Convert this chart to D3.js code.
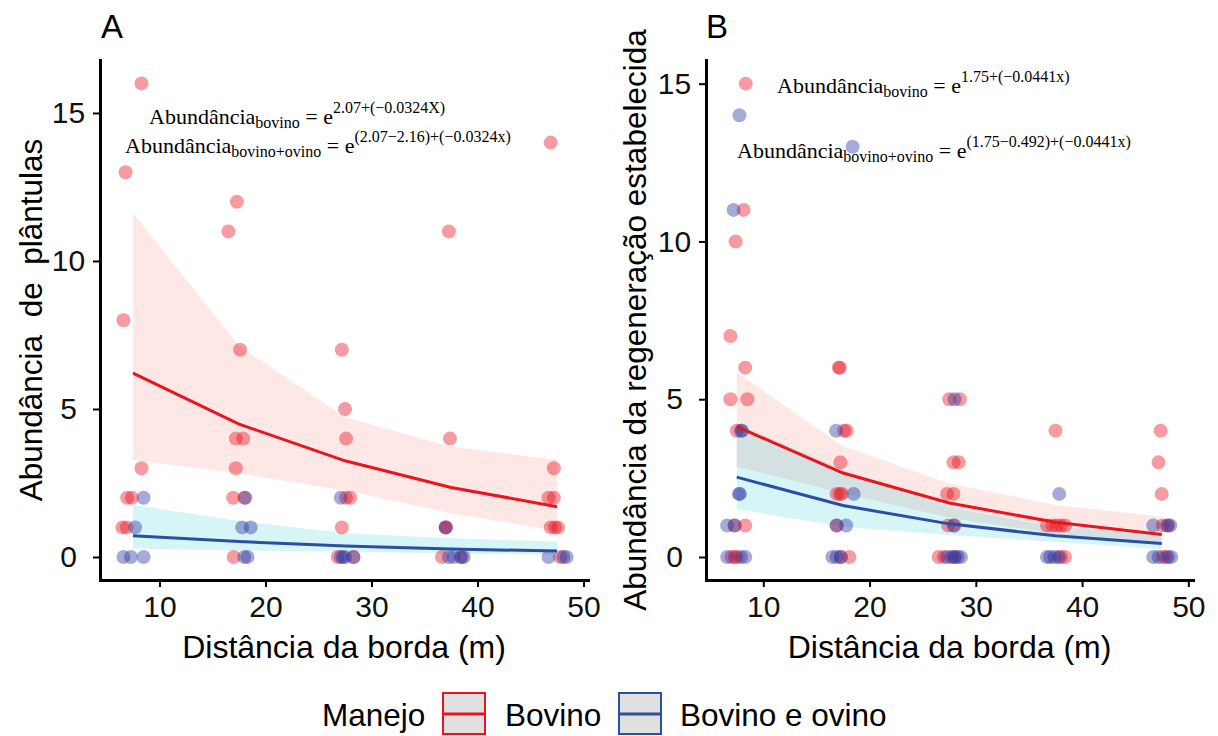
<!DOCTYPE html>
<html>
<head>
<meta charset="utf-8">
<script src="https://cdn.jsdelivr.net/npm/d3@7"></script>
<style>
  body { margin: 0; background: #ffffff; }
  svg { display: block; }
</style>
</head>
<body>
<svg id="chart" width="1218" height="736"></svg>
<script>
// ---- Data -------------------------------------------------------------

// Distances (m) at which the fitted curves and confidence bands are evaluated
const fitDistances = [7.5, 17.5, 27.5, 37.5, 47.5];

// Panel A: seedling abundance (plântulas), jittered observations
const plantulasBovinoX = [8.3, 46.9, 6.8, 17.3, 16.5, 37.3, 6.6, 17.6, 27.2, 27.5, 17.2, 17.9, 27.6, 37.4, 8.3, 17.2, 47.2,
  6.95, 7.4, 16.95, 18.0, 27.6, 28.0, 46.7, 47.2,
  6.5, 6.9, 27.2, 37.0, 37.0, 46.9, 47.3, 47.6,
  17.0, 26.8, 28.3, 36.65, 38.5, 47.8];
const plantulasBovinoY = [16, 14, 13, 12, 11, 11, 8, 7, 7, 5, 4, 4, 4, 4, 3, 3, 3,
  2, 2, 2, 2, 2, 2, 2, 2,
  1, 1, 1, 1, 1, 1, 1, 1,
  0, 0, 0, 0, 0, 0];
const plantulasOvinoX = [8.5, 18.1, 27.1,
  7.7, 17.8, 18.6, 37.0,
  6.6, 7.3, 8.5, 18.0, 18.3, 27.1, 27.3, 27.5, 28.3, 37.3, 37.75, 38.4, 38.7, 46.7, 48.1, 48.4];
const plantulasOvinoY = [2, 2, 2,
  1, 1, 1, 1,
  0, 0, 0, 0, 0, 0, 0, 0, 0, 0, 0, 0, 0, 0, 0, 0];

// Panel A: fitted abundance and confidence band
const plantulasFitBovino = [6.21, 4.49, 3.25, 2.35, 1.70];
const plantulasLoBovino  = [3.28, 2.83, 2.24, 1.48, 0.88];
const plantulasHiBovino  = [11.63, 7.13, 4.72, 3.73, 3.28];
const plantulasFitOvino  = [0.72, 0.52, 0.37, 0.27, 0.20];
const plantulasLoOvino   = [0.29, 0.22, 0.18, 0.12, 0.075];
const plantulasHiOvino   = [1.76, 1.22, 0.80, 0.63, 0.52];

// Panel B: established regeneration abundance, jittered observations
const regenBovinoX = [8.35, 8.15, 7.4, 6.9, 8.3, 17.1, 17.2, 6.9, 8.5, 27.5, 28.5,
  7.5, 17.6, 17.85, 37.5, 47.4,
  17.25, 27.9, 28.4, 47.2,
  16.9, 17.2, 17.4, 27.3, 27.9, 47.5,
  7.3, 8.3, 16.9, 27.4, 28.0, 36.7, 37.2, 37.6, 38.0, 38.4, 47.6, 48.1,
  7.0, 7.3, 7.5, 17.3, 18.1, 26.5, 27.0, 28.0, 38.0, 38.4, 47.6, 47.9];
const regenBovinoY = [15, 11, 10, 7, 6, 6, 6, 5, 5, 5, 5,
  4, 4, 4, 4, 4,
  3, 3, 3, 3,
  2, 2, 2, 2, 2, 2,
  1, 1, 1, 1, 1, 1, 1, 1, 1, 1, 1, 1,
  0, 0, 0, 0, 0, 0, 0, 0, 0, 0, 0, 0];
const regenOvinoX = [7.75, 18.4, 7.2,
  28.0,
  7.9, 8.0, 16.85,
  7.7, 7.8, 18.5, 37.85,
  6.6, 7.3, 16.9, 17.8, 27.9, 46.7, 48.0, 48.3,
  6.6, 7.9, 8.3, 16.5, 16.9, 17.3, 27.3, 27.7, 28.0, 28.3, 28.6, 36.7, 37.0, 37.4, 37.8, 46.7, 47.2, 48.1, 48.4];
const regenOvinoY = [14, 13, 11,
  5,
  4, 4, 4,
  2, 2, 2, 2,
  1, 1, 1, 1, 1, 1, 1, 1,
  0, 0, 0, 0, 0, 0, 0, 0, 0, 0, 0, 0, 0, 0, 0, 0, 0, 0, 0];

// Panel B: fitted abundance and confidence band
const regenFitBovino = [4.13, 2.66, 1.71, 1.10, 0.71];
const regenLoBovino  = [2.86, 2.02, 1.25, 0.73, 0.39];
const regenHiBovino  = [5.85, 3.51, 2.33, 1.65, 1.28];
const regenFitOvino  = [2.53, 1.63, 1.05, 0.67, 0.43];
const regenLoOvino   = [1.51, 0.96, 0.70, 0.48, 0.24];
const regenHiOvino   = [4.24, 2.77, 1.58, 0.94, 0.77];

// Axis ticks
const xTicks = [10, 20, 30, 40, 50];
const yTicks = [0, 5, 10, 15];

// Legend
const manejoLabels = ["Bovino", "Bovino e ovino"];

// ---- Styling ----------------------------------------------------------
const SANS = "'Liberation Sans', Arial, sans-serif";
const SERIF = "'Liberation Serif', 'Times New Roman', serif";
const lineColor = { bovino: "#E8151F", ovino: "#2B4EA2" };
const pointColor = { bovino: "#E8101E", ovino: "#2B35A0" };
const bandColor = { bovino: "#F8766D", ovino: "#00BFC4" };

const svg = d3.select("#chart");
svg.append("rect").attr("width", 1218).attr("height", 736).attr("fill", "#ffffff");

const zip = (xs, ys) => xs.map((x, i) => ({ x, y: ys[i] }));
const band = (fit, lo, hi) => fitDistances.map((x, i) => ({ x, fit: fit[i], lo: lo[i], hi: hi[i] }));

const panels = [
  {
    tag: "A", tagX: 101,
    xRange: [100, 588], xDomain: [4.387, 50.42],
    yRange: [580, 60], yDomain: [-0.777, 16.79],
    yTitle: "Abundância  de  plântulas", yTitleX: 42,
    bovino: zip(plantulasBovinoX, plantulasBovinoY),
    ovino: zip(plantulasOvinoX, plantulasOvinoY),
    bandBovino: band(plantulasFitBovino, plantulasLoBovino, plantulasHiBovino),
    bandOvino: band(plantulasFitOvino, plantulasLoOvino, plantulasHiOvino),
    equations: [
      { x: 149, y: 124, sup: "2.07+(−0.0324X)", sub: "bovino" },
      { x: 125, y: 153, sup: "(2.07−2.16)+(−0.0324x)", sub: "bovino+ovino" }
    ]
  },
  {
    tag: "B", tagX: 706,
    xRange: [706, 1193], xDomain: [4.607, 50.44],
    yRange: [580, 60], yDomain: [-0.729, 15.75],
    yTitle: "Abundância da regeneração estabelecida", yTitleX: 646,
    bovino: zip(regenBovinoX, regenBovinoY),
    ovino: zip(regenOvinoX, regenOvinoY),
    bandBovino: band(regenFitBovino, regenLoBovino, regenHiBovino),
    bandOvino: band(regenFitOvino, regenLoOvino, regenHiOvino),
    equations: [
      { x: 777, y: 93, sup: "1.75+(−0.0441x)", sub: "bovino" },
      { x: 737, y: 158, sup: "(1.75−0.492)+(−0.0441x)", sub: "bovino+ovino" }
    ]
  }
];

panels.forEach(p => {
  const x = d3.scaleLinear().domain(p.xDomain).range(p.xRange);
  const y = d3.scaleLinear().domain(p.yDomain).range(p.yRange);
  const g = svg.append("g");

  const area = d3.area().x(d => x(d.x)).y0(d => y(d.lo)).y1(d => y(d.hi));
  const line = d3.line().x(d => x(d.x)).y(d => y(d.fit));

  // confidence bands
  g.append("path").datum(p.bandBovino).attr("d", area)
    .attr("fill", bandColor.bovino).attr("fill-opacity", 0.17);
  g.append("path").datum(p.bandOvino).attr("d", area)
    .attr("fill", bandColor.ovino).attr("fill-opacity", 0.16);

  // observations
  g.append("g").selectAll("circle").data(p.bovino).join("circle")
    .attr("cx", d => x(d.x)).attr("cy", d => y(d.y)).attr("r", 7)
    .attr("fill", pointColor.bovino).attr("fill-opacity", 0.42);
  g.append("g").selectAll("circle").data(p.ovino).join("circle")
    .attr("cx", d => x(d.x)).attr("cy", d => y(d.y)).attr("r", 7)
    .attr("fill", pointColor.ovino).attr("fill-opacity", 0.42);

  // fitted curves
  g.append("path").datum(p.bandBovino).attr("d", line)
    .attr("fill", "none").attr("stroke", lineColor.bovino).attr("stroke-width", 3);
  g.append("path").datum(p.bandOvino).attr("d", line)
    .attr("fill", "none").attr("stroke", lineColor.ovino).attr("stroke-width", 3);

  // axes
  const xAxis = g.append("g").attr("transform", `translate(0,${p.yRange[0]})`)
    .call(d3.axisBottom(x).tickValues(xTicks).tickSizeInner(7).tickSizeOuter(0).tickPadding(9));
  const yAxis = g.append("g").attr("transform", `translate(${p.xRange[0]},0)`)
    .call(d3.axisLeft(y).tickValues(yTicks).tickSizeInner(7).tickSizeOuter(0).tickPadding(15));
  [xAxis, yAxis].forEach(a => {
    a.select(".domain").attr("stroke", "#000").attr("stroke-width", 3).attr("stroke-linecap", "square");
    a.selectAll(".tick line").attr("stroke", "#000").attr("stroke-width", 2);
    a.selectAll(".tick text").attr("fill", "#111").attr("font-family", SANS).attr("font-size", 30);
  });
  // y tick labels are centred in their column
  yAxis.selectAll(".tick text").attr("text-anchor", "middle").attr("x", -31.5);

  // axis titles
  g.append("text").attr("x", (p.xRange[0] + p.xRange[1]) / 2).attr("y", 658)
    .attr("text-anchor", "middle").attr("font-family", SANS).attr("font-size", 32).attr("fill", "#000")
    .text("Distância da borda (m)");
  g.append("text")
    .attr("transform", `translate(${p.yTitleX},${(p.yRange[0] + p.yRange[1]) / 2}) rotate(-90)`)
    .attr("text-anchor", "middle").attr("font-family", SANS).attr("font-size", 31.5).attr("fill", "#000")
    .style("white-space", "pre")
    .text(p.yTitle);

  // panel tag
  g.append("text").attr("x", p.tagX).attr("y", 38)
    .attr("font-family", SANS).attr("font-size", 33).attr("fill", "#000").text(p.tag);

  // model equations
  p.equations.forEach(eq => {
    const t = g.append("text").attr("x", eq.x).attr("y", eq.y)
      .attr("font-family", SERIF).attr("font-size", 22).attr("fill", "#000");
    t.append("tspan").text("Abundância");
    t.append("tspan").attr("font-size", 16).attr("dy", 4).text(eq.sub);
    t.append("tspan").attr("dy", -4).text(" = e");
    t.append("tspan").attr("font-size", 16).attr("dy", -11).text(eq.sup);
  });
});

// ---- Legend -----------------------------------------------------------
const legend = svg.append("g");
legend.append("text").attr("x", 322).attr("y", 726)
  .attr("font-family", SANS).attr("font-size", 31.5).attr("fill", "#000").text("Manejo");
const keys = [
  { label: manejoLabels[0], color: lineColor.bovino, boxX: 443, textX: 505 },
  { label: manejoLabels[1], color: lineColor.ovino, boxX: 619, textX: 680 }
];
keys.forEach(k => {
  legend.append("rect").attr("x", k.boxX).attr("y", 693).attr("width", 42).attr("height", 41)
    .attr("fill", "#E0E0E0").attr("stroke", k.color).attr("stroke-width", 2);
  legend.append("line").attr("x1", k.boxX + 1).attr("x2", k.boxX + 41).attr("y1", 714).attr("y2", 714)
    .attr("stroke", k.color).attr("stroke-width", 3);
  legend.append("text").attr("x", k.textX).attr("y", 726)
    .attr("font-family", SANS).attr("font-size", 31.5).attr("fill", "#000").text(k.label);
});
</script>
</body>
</html>
